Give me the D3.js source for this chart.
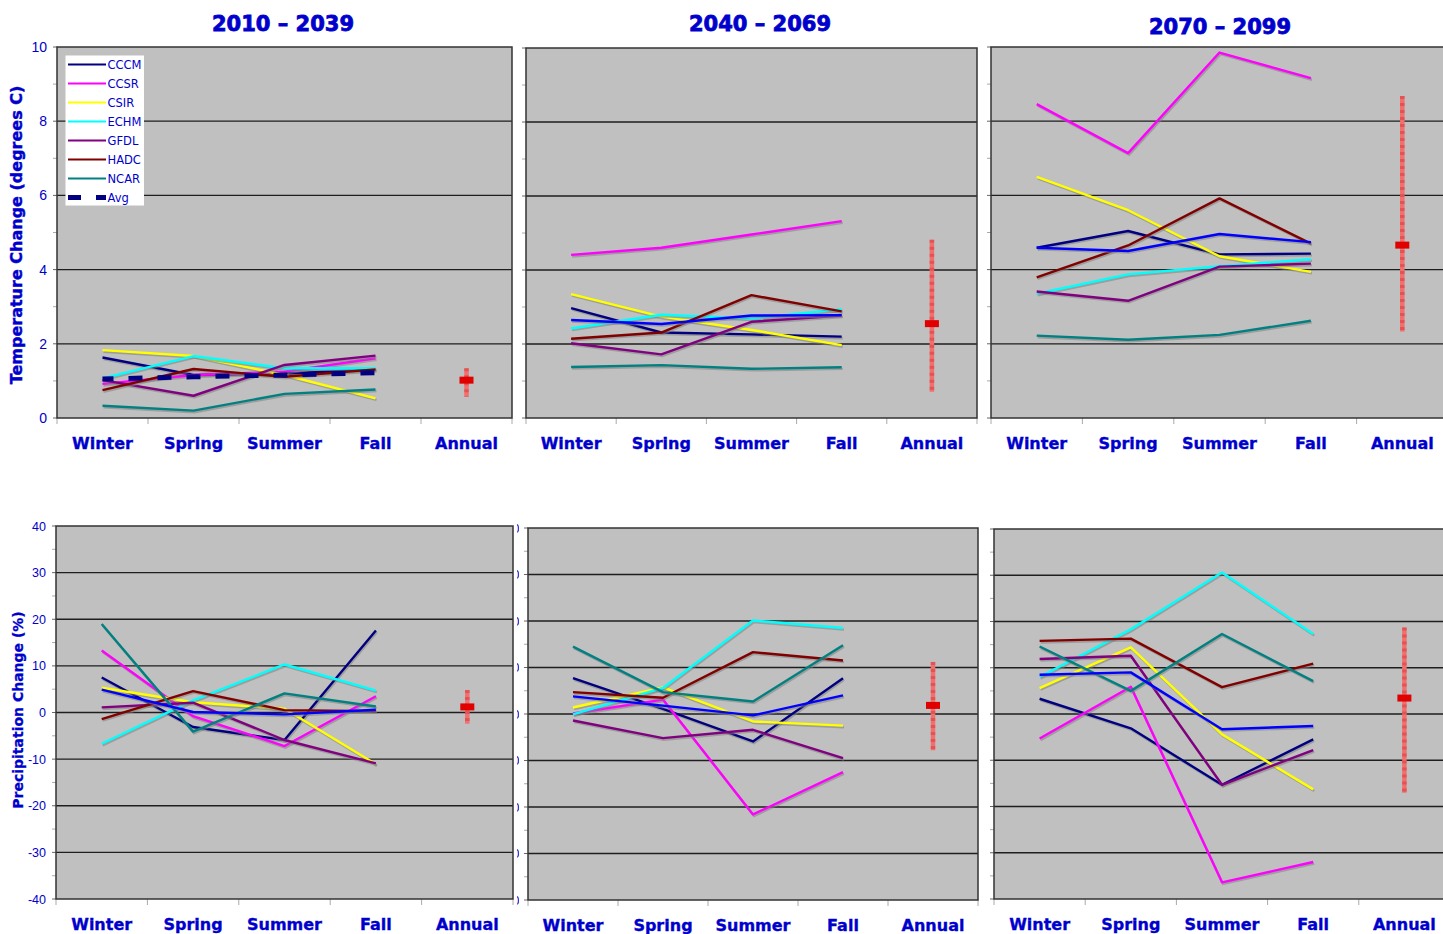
<!DOCTYPE html>
<html>
<head>
<meta charset="utf-8">
<title>Temperature and precipitation change</title>
<script src="https://cdnjs.cloudflare.com/ajax/libs/d3/7.8.5/d3.min.js"></script>
<style>
  body { margin: 0; background: white }
  svg { display: block }
</style>
</head>
<body>
<div id="chart"></div>
<script>
var categories = ["Winter", "Spring", "Summer", "Fall", "Annual"];
var seasons = categories.slice(0, 4);
var models = ["CCCM", "CCSR", "CSIR", "ECHM", "GFDL", "HADC", "NCAR", "Avg"];
var periods = ["2010 \u2013 2039", "2040 \u2013 2069", "2070 \u2013 2099"];

// temperature change (degrees C), one row per model, Winter..Fall
var temp2010 = [
  [1.63, 1.16, 1.20, 1.30],
  [0.92, 1.16, 1.25, 1.61],
  [1.83, 1.67, 1.16, 0.53],
  [1.07, 1.67, 1.34, 1.34],
  [1.02, 0.60, 1.43, 1.68],
  [0.75, 1.32, 1.11, 1.31],
  [0.33, 0.20, 0.65, 0.77],
  [1.05, 1.11, 1.16, 1.22]
];
var temp2040 = [
  [2.97, 2.31, 2.26, 2.20],
  [4.41, 4.60, 4.96, 5.32],
  [3.35, 2.74, 2.38, 1.97],
  [2.42, 2.79, 2.69, 2.94],
  [2.02, 1.72, 2.60, 2.77],
  [2.14, 2.31, 3.32, 2.88],
  [1.38, 1.43, 1.33, 1.37],
  [2.65, 2.54, 2.77, 2.78]
];
var temp2070 = [
  [4.59, 5.04, 4.41, 4.43],
  [8.46, 7.14, 9.85, 9.16],
  [6.50, 5.60, 4.36, 3.94],
  [3.35, 3.87, 4.09, 4.28],
  [3.41, 3.16, 4.08, 4.16],
  [3.79, 4.65, 5.92, 4.70],
  [2.22, 2.11, 2.24, 2.62],
  [4.59, 4.50, 4.96, 4.74]
];

// precipitation change (%), same order
var precip2010 = [
  [7.5, -3.1, -5.9, 17.6],
  [13.3, -0.8, -7.2, 3.5],
  [5.3, 2.2, 0.8, -11.1],
  [-6.7, 2.6, 10.3, 4.7],
  [1.1, 2.1, -5.9, -10.9],
  [-1.4, 4.6, 0.5, 0.3],
  [19.0, -4.1, 4.1, 1.3],
  [4.9, 0.1, -0.4, 0.6]
];
var precip2040 = [
  [7.7, 1.1, -5.9, 7.7],
  [0.1, 3.1, -21.6, -12.5],
  [1.4, 5.7, -1.6, -2.5],
  [-0.1, 5.6, 20.1, 18.5],
  [-1.4, -5.2, -3.4, -9.5],
  [4.7, 3.5, 13.3, 11.5],
  [14.5, 4.7, 2.7, 14.8],
  [3.8, 1.8, -0.3, 4.0]
];
var precip2070 = [
  [3.3, -3.1, -15.3, -5.5],
  [-5.3, 5.9, -36.4, -32.0],
  [5.6, 14.4, -4.4, -16.3],
  [8.0, 18.3, 30.6, 17.3],
  [11.9, 12.6, -15.3, -7.8],
  [15.8, 16.3, 5.8, 10.9],
  [14.6, 5.0, 17.3, 7.1],
  [8.5, 9.0, -3.3, -2.6]
];

// annual: mean and model range per period
var tempAnnualMean = [1.02, 2.55, 4.66];
var tempAnnualLow = [0.57, 0.71, 2.33];
var tempAnnualHigh = [1.34, 4.82, 8.68];
var precipAnnualMean = [1.2, 1.85, 3.45];
var precipAnnualLow = [-2.4, -7.8, -17.0];
var precipAnnualHigh = [4.8, 11.2, 18.7];

var tempTicks = [0, 2, 4, 6, 8, 10];
var precipTicks = [-40, -30, -20, -10, 0, 10, 20, 30, 40];

// styles
var colors = ["#000080", "#ff00ff", "#ffff00", "#00ffff", "#800080", "#800000", "#008080", "#0000ff"];
var textBlue = "#0000cc";

var layout = {
  top: [{x0: 57, x1: 512, y0: 47, y1: 418}, {x0: 526, x1: 977, y0: 48, y1: 418}, {x0: 991, x1: 1448, y0: 47, y1: 418}],
  bottom: [{x0: 56, x1: 513, y0: 526, y1: 899}, {x0: 528, x1: 978, y0: 528, y1: 900}, {x0: 994, x1: 1450, y0: 529, y1: 899}]
};

var svg = d3.select("#chart").append("svg")
    .attr("width", 1443)
    .attr("height", 934);

function heavy(sel, w) {
  return sel.attr("stroke", textBlue).attr("stroke-width", w).attr("paint-order", "stroke");
}

function drawPanel(box, rows, mean, low, high, ticks, minor, col, dashedAvg) {
  var g = svg.append("g");
  var x = d3.scaleBand().domain(categories).range([box.x0, box.x1]);
  var y = d3.scaleLinear().domain([ticks[0], ticks[ticks.length - 1]]).range([box.y1, box.y0]);
  var cx = function(c) { return x(c) + x.bandwidth() / 2; };

  g.append("rect")
    .attr("x", box.x0).attr("y", box.y0)
    .attr("width", box.x1 - box.x0).attr("height", box.y1 - box.y0)
    .attr("fill", "#c0c0c0");

  // gridlines
  g.selectAll(".grid").data(ticks.slice(1, -1)).enter().append("line")
    .attr("x1", box.x0).attr("x2", box.x1)
    .attr("y1", function(d) { return y(d); }).attr("y2", function(d) { return y(d); })
    .attr("stroke", "#1e1e1e").attr("stroke-width", 1.3);

  // minor and major ticks on the left
  var minorTicks = d3.range(ticks[0], ticks[ticks.length - 1] + 0.001, minor);
  g.selectAll(".mt").data(minorTicks).enter().append("line")
    .attr("x1", box.x0 - 4).attr("x2", box.x0)
    .attr("y1", function(d) { return y(d); }).attr("y2", function(d) { return y(d); })
    .attr("stroke", function(d) { return ticks.indexOf(d) >= 0 ? "#666" : "#aaa"; })
    .attr("stroke-width", 1);

  // x ticks at category boundaries
  var bounds = categories.map(function(c) { return x(c); }).concat([box.x1]);
  g.selectAll(".xt").data(bounds).enter().append("line")
    .attr("x1", function(d) { return d; }).attr("x2", function(d) { return d; })
    .attr("y1", box.y1).attr("y2", box.y1 + 6)
    .attr("stroke", "#aaa").attr("stroke-width", 1);

  // category labels
  heavy(g.selectAll(".cat").data(categories).enter().append("text")
    .attr("x", cx).attr("y", box.y1 + 31)
    .attr("text-anchor", "middle")
    .attr("font-family", "DejaVu Sans").attr("font-weight", "bold").attr("font-size", 16)
    .attr("fill", textBlue)
    .text(function(d) { return d; }), 0.35);

  // tick labels
  if (col === 0) {
    g.selectAll(".yl").data(ticks).enter().append("text")
      .attr("x", box.x0 - 10).attr("y", function(d) { return y(d); })
      .attr("dy", "0.36em").attr("text-anchor", "end")
      .attr("font-family", "Liberation Sans").attr("font-size", ticks.length > 6 ? 12.5 : 14)
      .attr("fill", textBlue)
      .text(function(d) { return d; });
  }

  // model lines
  var line = d3.line()
    .x(function(d, i) { return cx(seasons[i]); })
    .y(function(d) { return y(d); });

  rows.forEach(function(r, i) {
    var avgDash = dashedAvg && models[i] === "Avg";
    if (!avgDash) {
      g.append("path")
        .attr("d", line(r))
        .attr("transform", "translate(1,1.6)")
        .attr("fill", "none")
        .attr("stroke", "#808080").attr("stroke-opacity", 0.55)
        .attr("stroke-width", 2.4);
    }
    g.append("path")
      .attr("d", line(r))
      .attr("fill", "none")
      .attr("stroke", avgDash ? "#000080" : colors[i])
      .attr("stroke-width", avgDash ? 5 : 2.4)
      .attr("stroke-dasharray", avgDash ? "14,15" : null)
      .attr("stroke-dashoffset", avgDash ? 3 : null)
      .attr("stroke-linejoin", "round");
  });

  // annual mean and range
  var ax = cx("Annual");
  g.append("line")
    .attr("x1", ax).attr("x2", ax)
    .attr("y1", y(high[col])).attr("y2", y(low[col]))
    .attr("stroke", "#f07070").attr("stroke-width", 4.5);
  g.append("line")
    .attr("x1", ax).attr("x2", ax)
    .attr("y1", y(high[col])).attr("y2", y(low[col]))
    .attr("stroke", "#e03c3c").attr("stroke-opacity", 0.6)
    .attr("stroke-width", 4.5).attr("stroke-dasharray", "3,4");
  g.append("rect")
    .attr("x", ax - 7).attr("y", y(mean[col]) - 3.5)
    .attr("width", 14).attr("height", 7)
    .attr("fill", "#e00000");

  // border
  g.append("rect")
    .attr("x", box.x0).attr("y", box.y0)
    .attr("width", box.x1 - box.x0).attr("height", box.y1 - box.y0)
    .attr("fill", "none").attr("stroke", "#333").attr("stroke-width", 1.5);

  return {x: x, y: y};
}

var tempData = [temp2010, temp2040, temp2070];
var precipData = [precip2010, precip2040, precip2070];

for (var c = 0; c < 3; c++) {
  drawPanel(layout.top[c], tempData[c], tempAnnualMean, tempAnnualLow, tempAnnualHigh, tempTicks, 1, c, c === 0);
  drawPanel(layout.bottom[c], precipData[c], precipAnnualMean, precipAnnualLow, precipAnnualHigh, precipTicks, 5, c, false);
}

// clipped tick labels of the middle precipitation panel peeking out
svg.append("clipPath").attr("id", "peek")
  .append("rect").attr("x", 517).attr("y", 500).attr("width", 2).attr("height", 420);
var ym = d3.scaleLinear().domain([-40, 40]).range([layout.bottom[1].y1, layout.bottom[1].y0]);
svg.append("g").attr("clip-path", "url(#peek)")
  .selectAll("text").data(precipTicks).enter().append("text")
  .attr("x", 519.5).attr("y", function(d) { return ym(d); })
  .attr("dy", "0.36em").attr("text-anchor", "end")
  .attr("font-family", "Liberation Sans").attr("font-size", 12.5)
  .attr("fill", textBlue)
  .text(function(d) { return d; });

// titles
var titleX = [283, 760, 1220];
var titleY = [31, 31, 34];
heavy(svg.selectAll(".title").data(periods).enter().append("text")
  .attr("x", function(d, i) { return titleX[i]; })
  .attr("y", function(d, i) { return titleY[i]; })
  .attr("text-anchor", "middle")
  .attr("font-family", "DejaVu Sans").attr("font-weight", "bold").attr("font-size", 21)
  .attr("fill", textBlue)
  .text(function(d) { return d; }), 0.8);

// axis titles
heavy(svg.append("text")
  .attr("transform", "translate(22,235) rotate(-90)")
  .attr("text-anchor", "middle")
  .attr("font-family", "DejaVu Sans").attr("font-weight", "bold").attr("font-size", 16)
  .attr("fill", textBlue)
  .text("Temperature Change (degrees C)"), 0.4);
heavy(svg.append("text")
  .attr("transform", "translate(23,710) rotate(-90)")
  .attr("text-anchor", "middle")
  .attr("font-family", "DejaVu Sans").attr("font-weight", "bold").attr("font-size", 14)
  .attr("fill", textBlue)
  .text("Precipitation Change (%)"), 0.3);

// legend
var legend = svg.append("g");
legend.append("rect")
  .attr("x", 65.5).attr("y", 55.5).attr("width", 78.5).attr("height", 150)
  .attr("fill", "white");
var items = legend.selectAll(".item").data(models).enter().append("g")
  .attr("transform", function(d, i) { return "translate(0," + (64.5 + i * 19) + ")"; });
items.append("line")
  .attr("x1", 68).attr("x2", 106)
  .attr("stroke", function(d, i) { return d === "Avg" ? "#000080" : colors[i]; })
  .attr("stroke-width", function(d) { return d === "Avg" ? 5 : 2; })
  .attr("stroke-dasharray", function(d) { return d === "Avg" ? "13,15,10" : null; });
items.append("text")
  .attr("x", 107.5).attr("dy", "0.36em")
  .attr("font-family", "DejaVu Sans").attr("font-size", 11.5)
  .attr("fill", textBlue)
  .text(function(d) { return d; });
</script>
</body>
</html>
